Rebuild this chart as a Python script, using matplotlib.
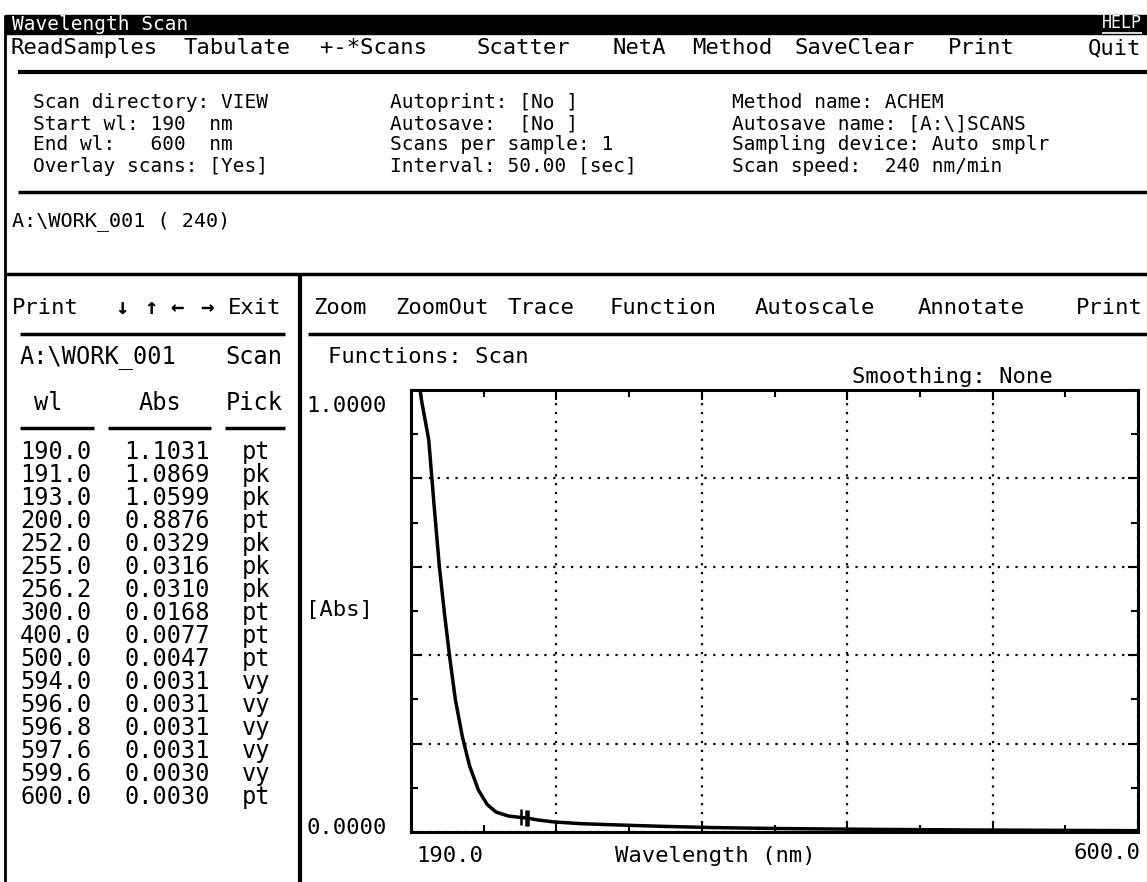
import matplotlib
matplotlib.use('Agg')
import matplotlib.pyplot as plt
from matplotlib.patches import Rectangle
from matplotlib.ticker import FixedLocator
import numpy as np

plt.rcParams['font.family'] = ['DejaVu Sans Mono', 'DejaVu Sans']

W, H = 1147, 882

# menu bars
top_menu = ['ReadSamples', 'Tabulate', '+-*Scans', 'Scatter', 'NetA', 'Method', 'SaveClear', 'Print', 'Quit']
plot_menu = ['Zoom', 'ZoomOut', 'Trace', 'Function', 'Autoscale', 'Annotate', 'Print']
nav_keys = ['Print', '\u2193', '\u2191', '\u2190', '\u2192', 'Exit']

# method settings block
info_col1 = ['Scan directory: VIEW', 'Start wl: 190  nm', 'End wl:   600  nm', 'Overlay scans: [Yes]']
info_col2 = ['Autoprint: [No ]', 'Autosave:  [No ]', 'Scans per sample: 1', 'Interval: 50.00 [sec]']
info_col3 = ['Method name: ACHEM', 'Autosave name: [A:\\]SCANS', 'Sampling device: Auto smplr', 'Scan speed:  240 nm/min']

# peak pick table
pick_wl = [190.0, 191.0, 193.0, 200.0, 252.0, 255.0, 256.2, 300.0, 400.0, 500.0,
           594.0, 596.0, 596.8, 597.6, 599.6, 600.0]
pick_abs = [1.1031, 1.0869, 1.0599, 0.8876, 0.0329, 0.0316, 0.0310, 0.0168, 0.0077, 0.0047,
            0.0031, 0.0031, 0.0031, 0.0031, 0.0030, 0.0030]
pick_type = ['pt', 'pk', 'pk', 'pt', 'pk', 'pk', 'pk', 'pt', 'pt', 'pt',
             'vy', 'vy', 'vy', 'vy', 'vy', 'pt']

# scan trace
trace_wl = [190, 191, 193, 196, 200, 203, 206, 209, 212, 215, 219, 223, 228, 233, 238,
            245, 252, 255, 256.2, 262, 270, 285, 300, 330, 360, 400, 450, 500, 550, 594, 600]
trace_abs = [1.1031, 1.0869, 1.0599, 0.975, 0.8876, 0.74, 0.60, 0.49, 0.39, 0.30, 0.215, 0.15,
             0.095, 0.062, 0.045, 0.036, 0.0329, 0.0316, 0.0310, 0.027, 0.023, 0.019, 0.0168,
             0.013, 0.010, 0.0077, 0.006, 0.0047, 0.0038, 0.0031, 0.0030]

fig = plt.figure(figsize=(W / 100, H / 100), dpi=100)

# screen layer in pixel coordinates
ui = fig.add_axes([0, 0, 1, 1])
ui.set_xlim(0, W)
ui.set_ylim(H, 0)
ui.axis('off')

def hline(y, x0, x1, lw=2, color='black'):
    ui.plot([x0, x1], [y, y], color=color, lw=lw, solid_capstyle='butt')

def vline(x, y0, y1, lw=2):
    ui.plot([x, x], [y0, y1], color='black', lw=lw, solid_capstyle='butt')

def txt(x, y, s, size=16, ha='left', **kw):
    ui.text(x, y, s, fontsize=size, ha=ha, va='center', **kw)

# title bar
ui.add_patch(Rectangle((5, 15), W - 5, 19, color='black'))
txt(12, 24, 'Wavelength Scan', size=14, color='white')
txt(1142, 23, 'HELP', size=12, ha='right', color='white')
hline(33, 1102, 1142, lw=1.2, color='white')
vline(5, 15, H)

# top menu
menu_x = [10, 183, 320, 476, 612, 692, 795, 948, 1088]
for x, s in zip(menu_x, top_menu):
    txt(x, 48, s)
hline(72, 18, W, lw=3)

# settings block
for i in range(4):
    y = 103 + i * 21
    txt(33, y, info_col1[i], size=14)
    txt(390, y, info_col2[i], size=14)
    txt(732, y, info_col3[i], size=14)
hline(192, 18, W, lw=2.5)
txt(12, 221, 'A:\\WORK_001 ( 240)', size=14.5)
hline(274, 5, W, lw=2.5)
vline(300, 274, H, lw=3)

# left panel
nav_x = [12, 115, 144, 170, 200, 228]
for x, s in zip(nav_x, nav_keys):
    txt(x, 308, s, fontweight='bold' if len(s) == 1 else 'normal')
hline(334, 20, 285, lw=2.5)
txt(20, 357, 'A:\\WORK_001', size=17)
txt(282, 357, 'Scan', size=17, ha='right')
txt(48, 403, 'wl', size=17, ha='center')
txt(160, 403, 'Abs', size=17, ha='center')
txt(254, 403, 'Pick', size=17, ha='center')
hline(428, 20, 94, lw=2.5)
hline(428, 108, 211, lw=2.5)
hline(428, 225, 285, lw=2.5)
for i in range(len(pick_wl)):
    y = 452 + i * 23
    txt(20, y, f'{pick_wl[i]:.1f}', size=17)
    txt(124, y, f'{pick_abs[i]:.4f}', size=17)
    txt(242, y, pick_type[i], size=17)

# right panel
plot_menu_x = [313, 395, 508, 610, 755, 918, 1076]
for x, s in zip(plot_menu_x, plot_menu):
    txt(x, 308, s)
hline(334, 308, W, lw=2.5)
txt(328, 357, 'Functions: Scan', size=16)
txt(852, 377, 'Smoothing: None', size=16)
txt(306, 406, '1.0000', size=16)
txt(306, 610, '[Abs]', size=16)
txt(306, 828, '0.0000', size=16)
txt(450, 856, '190.0', size=16, ha='center')
txt(715, 856, 'Wavelength (nm)', size=16, ha='center')
txt(1140, 853, '600.0', size=16, ha='right')

# spectrum plot
ax = fig.add_axes([411 / W, 1 - 832 / H, 727 / W, 442 / H])
ax.plot(trace_wl, trace_abs, color='black', lw=2.5)
pk_wl = [w for w, t in zip(pick_wl, pick_type) if t == 'pk']
pk_abs = [a for a, t in zip(pick_abs, pick_type) if t == 'pk']
ax.plot(pk_wl, pk_abs, ls='none', marker='|', ms=12, mew=1.8, color='black')
ax.set_xlim(190, 600)
ax.set_ylim(0, 1)
ax.xaxis.set_major_locator(FixedLocator(np.linspace(190, 600, 6)))
ax.xaxis.set_minor_locator(FixedLocator(np.linspace(190, 600, 11)))
ax.yaxis.set_major_locator(FixedLocator(np.linspace(0, 1, 6)))
ax.yaxis.set_minor_locator(FixedLocator(np.linspace(0, 1, 11)))
ax.grid(True, which='major', color='black', lw=1.6, linestyle=(0, (1, 3)))
ax.tick_params(which='both', direction='in', top=True, right=True,
               labelbottom=False, labelleft=False)
ax.tick_params(which='major', length=7, width=1.5)
ax.tick_params(which='minor', length=5, width=1.5)
for sp in ax.spines.values():
    sp.set_linewidth(2.2)

fig.savefig('out.png', dpi=100)
